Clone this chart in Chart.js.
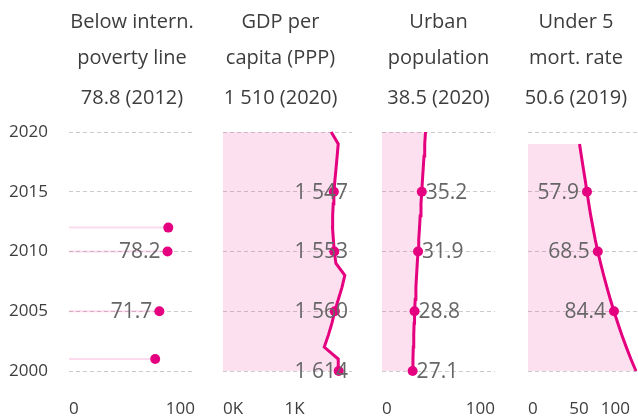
<!DOCTYPE html>
<html>
<head>
<meta charset="utf-8">
<script src="https://cdn.jsdelivr.net/npm/chart.js@4.4.1/dist/chart.umd.min.js"></script>
<style>
  body { margin: 0; background: #fff; }
  #wrap { position: relative; width: 638px; height: 418px; overflow: hidden; }
  #wrap canvas { position: absolute; left: 0; top: 0; }
</style>
</head>
<body>
<div id="wrap">
  <canvas id="poverty" width="638" height="418"></canvas>
  <canvas id="gdp" width="638" height="418"></canvas>
  <canvas id="urban" width="638" height="418"></canvas>
  <canvas id="mortality" width="638" height="418"></canvas>
</div>
<script>
// yearly series, 2000 -> 2020
var years = [2000, 2001, 2002, 2003, 2004, 2005, 2006, 2007, 2008, 2009, 2010,
             2011, 2012, 2013, 2014, 2015, 2016, 2017, 2018, 2019, 2020];

var povertyYears = [2001, 2005, 2010, 2012];
var povertyValues = [68.4, 71.7, 78.2, 78.8];

var gdpValues = [1614, 1608, 1413, 1470, 1520, 1560, 1610, 1660, 1700, 1576, 1553,
                 1540, 1528, 1530, 1538, 1547, 1562, 1578, 1593, 1608, 1510];

var urbanValues = [27.1, 27.4, 27.7, 28.1, 28.4, 28.8, 29.4, 30.0, 30.6, 31.2, 31.9,
                   32.5, 33.2, 33.8, 34.5, 35.2, 35.8, 36.5, 37.2, 37.8, 38.5];

var mortYears = years.slice(0, 20);
var mortValues = [106, 101, 96.5, 92.2, 88.2, 84.4, 80.8, 77.5, 74.3, 71.3, 68.5,
                  66.0, 63.8, 61.6, 59.7, 57.9, 56.1, 54.2, 52.4, 50.6];

var yearTicks = [2000, 2005, 2010, 2015, 2020];
var povertyTicks = [0, 100];
var gdpTicks = [0, 1000, 1800];
var gdpTickLabels = ['0K', '1K', ''];
var urbanTicks = [0, 100];
var mortTicks = [0, 50, 100];

var FONT = '"Open Sans", "Noto Sans", sans-serif';
var INK = '#3d3d3d';
var PINK = '#e4007f';
var PINK_FILL = 'rgba(228, 0, 127, 0.12)';
var PINK_FAINT = 'rgba(228, 0, 127, 0.14)';

function fmt1(v) { return v.toFixed(1); }
function fmtThousands(v) { return String(Math.round(v)).replace(/\B(?=(\d{3})+(?!\d))/g, ' '); }

function points(ys, vs) {
  return ys.map(function (y, i) { return { x: vs[i], y: y }; });
}
function radii(ys, marked) {
  return ys.map(function (y) { return marked.indexOf(y) >= 0 ? 5 : 0; });
}

// three-line heading centred over each panel (not squeezed to the plot width)
var panelTitle = {
  id: 'panelTitle',
  afterDraw: function (chart, args, opts) {
    var ctx = chart.ctx;
    var area = chart.chartArea;
    var cx = (area.left + area.right) / 2 + (opts.dx || 0);
    ctx.save();
    ctx.font = '20px ' + FONT;
    ctx.fillStyle = INK;
    ctx.textAlign = 'center';
    ctx.textBaseline = 'middle';
    var rows = [22, 58, 98];
    opts.lines.forEach(function (t, i) { ctx.fillText(t, cx, rows[i]); });
    ctx.restore();
  }
};

// text next to the marked points, settings live on the dataset
var valueLabels = {
  id: 'valueLabels',
  afterDatasetsDraw: function (chart) {
    var ds = chart.data.datasets[0];
    var cfg = ds.valueLabel;
    if (!cfg) return;
    var meta = chart.getDatasetMeta(0);
    var ctx = chart.ctx;
    ctx.save();
    ctx.font = '21px ' + FONT;
    ctx.fillStyle = '#666';
    ctx.textBaseline = 'middle';
    ds.data.forEach(function (d, i) {
      if (cfg.years.indexOf(d.y) < 0) return;
      var pt = meta.data[i];
      var x;
      if (cfg.side === 'right') { ctx.textAlign = 'left'; x = pt.x + cfg.gap; }
      else if (cfg.side === 'left') { ctx.textAlign = 'right'; x = pt.x - cfg.gap; }
      else { ctx.textAlign = 'right'; x = chart.chartArea.right - cfg.gap; }
      ctx.fillText(cfg.format(d.x), x, pt.y + 1);
    });
    ctx.restore();
  }
};

function panel(id, p) {
  return new Chart(document.getElementById(id), {
    type: 'line',
    data: { datasets: p.datasets },
    plugins: [valueLabels, panelTitle],
    options: {
      responsive: false,
      animation: false,
      indexAxis: 'y',
      layout: { padding: { left: p.left, right: p.right, top: 132, bottom: 0 } },
      plugins: {
        legend: { display: false },
        tooltip: { enabled: false },
        panelTitle: { lines: p.title, dx: p.dx || 0 }
      },
      scales: {
        x: {
          type: 'linear',
          min: 0,
          max: p.max,
          grid: { display: false },
          border: { display: false },
          afterBuildTicks: function (axis) {
            axis.ticks = p.ticks.map(function (v) { return { value: v }; });
          },
          afterFit: function (axis) {
            axis.paddingLeft = 0;
            axis.paddingRight = 0;
            axis.height = 47;
          },
          ticks: {
            align: 'inner',
            autoSkip: false,
            maxRotation: 0,
            padding: 20,
            color: INK,
            font: { family: FONT, size: 17 },
            callback: p.tickLabel || function (v) { return String(v); }
          }
        },
        y: {
          type: 'linear',
          min: 2000,
          max: 2020,
          afterBuildTicks: function (axis) {
            axis.ticks = yearTicks.map(function (v) { return { value: v }; });
          },
          afterFit: function (axis) {
            axis.width = p.showYears ? 61 : 0;
          },
          grid: { color: '#cccccc', drawTicks: false },
          border: { display: false, dash: [4, 3] },
          ticks: {
            display: !!p.showYears,
            padding: 21,
            color: INK,
            font: { family: FONT, size: 17 },
            callback: function (v) { return String(v); }
          }
        }
      }
    }
  });
}

// lollipop stems for the sparse poverty series
var stems = [];
povertyYears.forEach(function (y, i) {
  stems.push({ x: 0, y: y }, { x: povertyValues[i], y: y }, { x: null, y: null });
});

function lineSet(ys, vs, dotYears, label) {
  return {
    data: points(ys, vs),
    borderColor: PINK,
    borderWidth: 3,
    backgroundColor: PINK_FILL,
    fill: 'origin',
    clip: false,
    pointRadius: radii(ys, dotYears),
    pointBackgroundColor: PINK,
    pointBorderWidth: 0,
    valueLabel: label
  };
}

panel('poverty', {
  left: 8, right: 443, max: 100, ticks: povertyTicks, showYears: true,
  title: ['Below intern.', 'poverty line',
          fmt1(povertyValues[povertyValues.length - 1]) + ' (' + povertyYears[povertyYears.length - 1] + ')'],
  datasets: [
    {
      data: points(povertyYears, povertyValues),
      showLine: false,
      clip: false,
      pointRadius: 5,
      pointBackgroundColor: PINK,
      pointBorderWidth: 0,
      order: 0,
      valueLabel: { years: [2005, 2010], side: 'left', gap: 7, format: fmt1 }
    },
    {
      data: stems,
      borderColor: PINK_FAINT,
      borderWidth: 2,
      pointRadius: 0,
      spanGaps: false,
      order: 1
    }
  ]
});

panel('gdp', {
  left: 223, right: 286, max: 1800, ticks: gdpTicks, dx: -7,
  tickLabel: function (v) { return gdpTickLabels[gdpTicks.indexOf(v)]; },
  title: ['GDP per', 'capita (PPP)',
          fmtThousands(gdpValues[gdpValues.length - 1]) + ' (' + years[years.length - 1] + ')'],
  datasets: [lineSet(years, gdpValues, [2000, 2005, 2010, 2015],
    { years: [2000, 2005, 2010, 2015], side: 'end', gap: 4, format: fmtThousands })]
});

panel('urban', {
  left: 382, right: 143, max: 100, ticks: urbanTicks,
  title: ['Urban', 'population',
          fmt1(urbanValues[urbanValues.length - 1]) + ' (' + years[years.length - 1] + ')'],
  datasets: [lineSet(years, urbanValues, [2000, 2005, 2010, 2015],
    { years: [2000, 2005, 2010, 2015], side: 'right', gap: 4, format: fmt1 })]
});

panel('mortality', {
  left: 528, right: 0, max: 108, ticks: mortTicks, dx: -7,
  title: ['Under 5', 'mort. rate',
          fmt1(mortValues[mortValues.length - 1]) + ' (' + mortYears[mortYears.length - 1] + ')'],
  datasets: [lineSet(mortYears, mortValues, [2005, 2010, 2015],
    { years: [2005, 2010, 2015], side: 'left', gap: 8, format: fmt1 })]
});
</script>
</body>
</html>
